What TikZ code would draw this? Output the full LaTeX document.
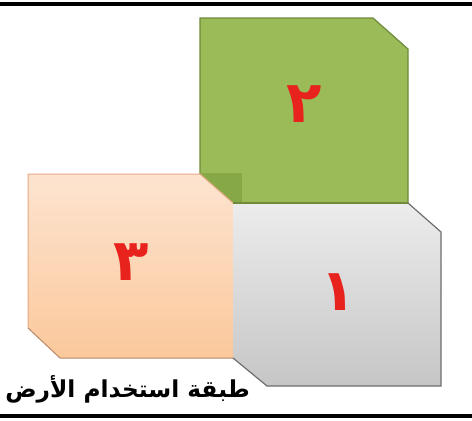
\documentclass[tikz,border=0pt]{standalone}
\usepackage{fontspec}
\newfontfamily\arabicfont[Script=Arabic]{DejaVu Sans}
\TeXXeTstate=1
\definecolor{grfill}{HTML}{9BBB59}
\definecolor{grdark}{HTML}{86A846}
\definecolor{grline}{HTML}{6F8A3A}
\definecolor{ortop}{HTML}{FDE4D0}
\definecolor{orbot}{HTML}{FBC89B}
\definecolor{orline}{HTML}{E7A982}
\definecolor{gytop}{HTML}{ECECEC}
\definecolor{gybot}{HTML}{C6C6C6}
\definecolor{gyline}{HTML}{6E6E6E}
\definecolor{numred}{HTML}{E8231E}
\tikzset{
  panel/.style={line width=1.2pt, line join=miter},
  numtext/.style={text=numred, font=\arabicfont\bfseries\fontsize{58}{58}\selectfont, inner sep=0pt},
}
\begin{document}
\begin{tikzpicture}[x=1pt,y=-1pt]
\useasboundingbox (0,0) rectangle (472,421);
\fill[white] (0,0) rectangle (472,421);
% frame lines
\draw[line width=3.5pt] (0,4) -- (472,4);
\draw[line width=3.5pt] (0,416) -- (472,416);
% green panel
\draw[panel, draw=grline, fill=grfill] (200,18) -- (373,18) -- (408,49) -- (408,203) -- (200,203) -- cycle;
\fill[grdark] (200,173) rectangle (242,203);
% orange panel
\shade[top color=ortop, bottom color=orbot] (28,174) -- (200,174) -- (233,203) -- (233,358) -- (60,358) -- (28,328) -- cycle;
\draw[orline, line width=1pt] (28,328) -- (28,174) -- (200,174) -- (233,203);
\draw[orline!80!black, line width=1pt] (28,328) -- (60,358) -- (233,358);
% gray panel
\shade[top color=gytop, bottom color=gybot] (233,203) -- (408,203) -- (441,232) -- (441,386) -- (267,386) -- (233,358) -- cycle;
\draw[gyline, line width=1.2pt] (233,358) -- (267,386) -- (441,386) -- (441,232) -- (408,203);
\draw[grline, line width=1.2pt] (233,203) -- (408,203);
% numbers
\node[numtext] (n2) at (304,104) {\beginR ٢\endR};
\node[numtext] (n3) at (131,262) {\beginR ٣\endR};
\node[numtext] (n1) at (338,292) {\beginR ١\endR};
% caption
\node[inner sep=0pt, anchor=center, font=\arabicfont\bfseries\fontsize{23.3}{24}\selectfont] (cap) at (127.5,389) {\beginR طبقة استخدام الأرض\endR};
\end{tikzpicture}
\end{document}
